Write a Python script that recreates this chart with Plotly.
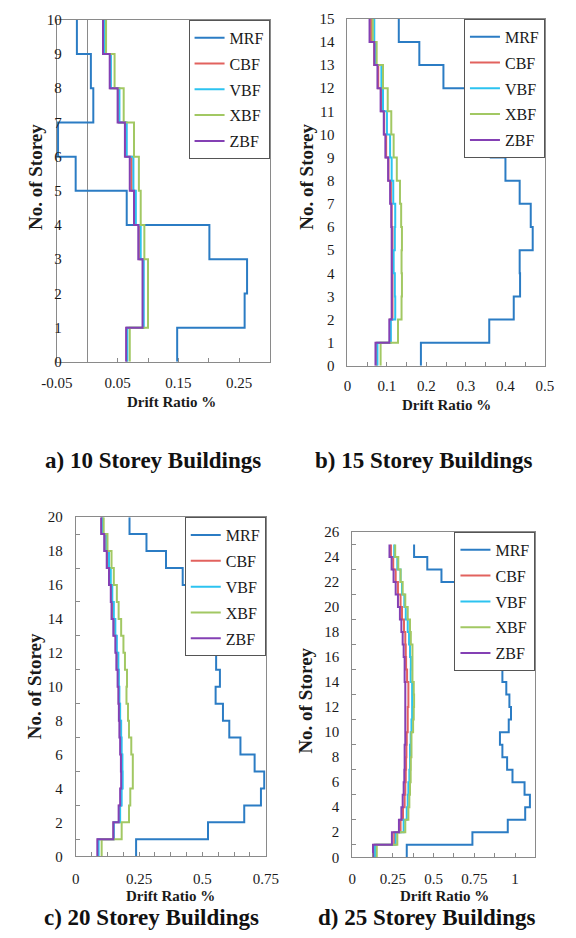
import plotly.graph_objects as go

series_names = ["MRF", "CBF", "VBF", "XBF", "ZBF"]
series_colors = ["#2B7CC4", "#E2625E", "#2CC3F0", "#A2C863", "#8440B4"]

# ---- a) 10 storey ----
a_mrf = [0.148, 0.259, 0.263, 0.201, 0.065, -0.019, -0.048, 0.010, 0.006, -0.017]
a_cbf = [0.065, 0.092, 0.092, 0.086, 0.078, 0.073, 0.064, 0.052, 0.038, 0.027]
a_vbf = [0.066, 0.093, 0.093, 0.088, 0.080, 0.076, 0.065, 0.053, 0.039, 0.029]
a_xbf = [0.070, 0.100, 0.100, 0.094, 0.088, 0.085, 0.077, 0.060, 0.045, 0.031]
a_zbf = [0.064, 0.091, 0.091, 0.084, 0.077, 0.070, 0.062, 0.050, 0.037, 0.026]

# ---- b) 15 storey ----
b_mrf = [0.186, 0.359, 0.421, 0.437, 0.436, 0.469, 0.464, 0.436, 0.400, 0.363, 0.345, 0.301, 0.243, 0.182, 0.130]
b_cbf = [0.074, 0.108, 0.114, 0.114, 0.113, 0.114, 0.112, 0.110, 0.104, 0.098, 0.093, 0.085, 0.078, 0.068, 0.060]
b_vbf = [0.076, 0.110, 0.121, 0.120, 0.117, 0.120, 0.121, 0.116, 0.112, 0.108, 0.100, 0.090, 0.086, 0.070, 0.068]
b_xbf = [0.084, 0.128, 0.137, 0.138, 0.137, 0.138, 0.136, 0.133, 0.125, 0.117, 0.111, 0.102, 0.090, 0.074, 0.064]
b_zbf = [0.071, 0.106, 0.112, 0.112, 0.112, 0.112, 0.111, 0.108, 0.103, 0.096, 0.092, 0.084, 0.076, 0.068, 0.056]

# ---- c) 20 storey ----
c_mrf = [0.238, 0.522, 0.665, 0.731, 0.744, 0.706, 0.650, 0.606, 0.581, 0.552, 0.569, 0.554, 0.521, 0.485, 0.450, 0.456, 0.422, 0.356, 0.279, 0.212]
c_cbf = [0.087, 0.149, 0.172, 0.178, 0.182, 0.181, 0.178, 0.176, 0.173, 0.170, 0.168, 0.164, 0.159, 0.152, 0.145, 0.141, 0.134, 0.127, 0.117, 0.103]
c_vbf = [0.090, 0.150, 0.175, 0.181, 0.185, 0.184, 0.181, 0.179, 0.175, 0.172, 0.170, 0.168, 0.162, 0.156, 0.150, 0.144, 0.138, 0.131, 0.121, 0.106]
c_xbf = [0.102, 0.181, 0.210, 0.215, 0.225, 0.225, 0.219, 0.210, 0.206, 0.200, 0.202, 0.194, 0.188, 0.179, 0.169, 0.162, 0.150, 0.141, 0.125, 0.110]
c_zbf = [0.085, 0.148, 0.169, 0.175, 0.179, 0.178, 0.175, 0.172, 0.170, 0.168, 0.165, 0.160, 0.156, 0.148, 0.141, 0.138, 0.131, 0.122, 0.112, 0.100]

# ---- d) 25 storey ----
d_mrf = [0.335, 0.738, 0.955, 1.062, 1.091, 1.058, 0.984, 0.951, 0.922, 0.907, 0.961, 0.975, 0.965, 0.946, 0.922,
         1.023, 1.062, 1.017, 0.940, 0.849, 0.748, 0.651, 0.548, 0.461, 0.380]
d_cbf = [0.136, 0.258, 0.297, 0.312, 0.322, 0.326, 0.329, 0.331, 0.333, 0.335, 0.341, 0.341, 0.345, 0.345, 0.337,
         0.331, 0.329, 0.326, 0.318, 0.306, 0.297, 0.281, 0.267, 0.252, 0.238]
d_vbf = [0.141, 0.267, 0.316, 0.335, 0.341, 0.345, 0.351, 0.355, 0.355, 0.359, 0.364, 0.368, 0.368, 0.368, 0.359,
         0.360, 0.355, 0.349, 0.341, 0.329, 0.320, 0.306, 0.297, 0.277, 0.258]
d_xbf = [0.151, 0.277, 0.326, 0.345, 0.351, 0.355, 0.359, 0.360, 0.364, 0.364, 0.374, 0.378, 0.380, 0.378, 0.370,
         0.370, 0.370, 0.360, 0.355, 0.341, 0.326, 0.310, 0.297, 0.283, 0.264]
d_zbf = [0.128, 0.244, 0.287, 0.302, 0.310, 0.316, 0.320, 0.322, 0.322, 0.326, 0.326, 0.326, 0.326, 0.326, 0.322,
         0.322, 0.316, 0.310, 0.302, 0.293, 0.281, 0.267, 0.254, 0.242, 0.229]

panel_titles = ["a) 10 Storey Buildings", "b) 15 Storey Buildings",
                "c) 20 Storey Buildings", "d) 25 Storey Buildings"]
x_title = "Drift Ratio %"
y_title = "No. of Storey"

panels = [
    [a_mrf, a_cbf, a_vbf, a_xbf, a_zbf],
    [b_mrf, b_cbf, b_vbf, b_xbf, b_zbf],
    [c_mrf, c_cbf, c_vbf, c_xbf, c_zbf],
    [d_mrf, d_cbf, d_vbf, d_xbf, d_zbf],
]

W, H = 576, 938
SERIF = "Liberation Serif, Times New Roman, serif"

# plot-area boxes in pixels: left, right, top, bottom
boxes = [(43, 267, 12, 360), (349, 557, 11, 364), (63, 263, 518, 863), (354, 547, 533, 864)]

def px_x(v):
    return v / W

def px_y(v):
    return 1 - v / H

fig = go.Figure()

for p, series in enumerate(panels):
    sfx = "" if p == 0 else str(p + 1)
    for name, color, vals in zip(series_names, series_colors, series):
        xs = list(vals) + [vals[-1]]
        ys = list(range(len(vals) + 1))
        fig.add_trace(go.Scatter(
            x=xs, y=ys, mode="lines", name=name, line=dict(color=color, width=2, shape="vh"),
            xaxis="x" + sfx, yaxis="y" + sfx, legend="legend" + sfx, legendgroup=name + sfx,
        ))

axis_font = dict(family=SERIF, size=15, color="#1a1a1a")
line_col = "#8a8a8a"

xcfg = [
    dict(range=[-0.05, 0.30], tickvals=[-0.05, 0.05, 0.15, 0.25], ticktext=["-0.05", "0.05", "0.15", "0.25"],
         minor=dict(dtick=0.05, tick0=0, ticks="inside", ticklen=4, tickcolor=line_col),
         zeroline=True, zerolinecolor=line_col, zerolinewidth=1),
    dict(range=[0, 0.5], tickvals=[0, 0.1, 0.2, 0.3, 0.4, 0.5], ticktext=["0", "0.1", "0.2", "0.3", "0.4", "0.5"],
         minor=dict(dtick=0.05, tick0=0, ticks="inside", ticklen=4, tickcolor=line_col), zeroline=False),
    dict(range=[0, 0.75], tickvals=[0, 0.25, 0.5, 0.75], ticktext=["0", "0.25", "0.5", "0.75"],
         minor=dict(dtick=0.0625, tick0=0, ticks="inside", ticklen=4, tickcolor=line_col), zeroline=False),
    dict(range=[0, 1.125], tickvals=[0, 0.25, 0.5, 0.75, 1.0], ticktext=["0", "0.25", "0.5", "0.75", "1"],
         minor=dict(dtick=0.125, tick0=0, ticks="inside", ticklen=4, tickcolor=line_col), zeroline=False),
]
ycfg = [
    dict(range=[0, 10], dtick=1, ticklabelstandoff=-9),
    dict(range=[0, 15], dtick=1, ticklabelstandoff=9),
    dict(range=[0, 20], dtick=2, ticklabelstandoff=9,
         minor=dict(dtick=1, ticks="inside", ticklen=4, tickcolor=line_col)),
    dict(range=[0, 26], dtick=2, ticklabelstandoff=9,
         minor=dict(dtick=1, ticks="inside", ticklen=4, tickcolor=line_col)),
]
x_standoff = [7, 6, 9, 8]

layout = dict(
    width=W, height=H, margin=dict(l=0, r=0, t=0, b=0),
    paper_bgcolor="white", plot_bgcolor="white",
    font=dict(family=SERIF, size=15, color="#1a1a1a"),
    annotations=[],
)

title_pos = [(144, 460), (430, 460), (143, 925), (433, 925)]
xtitle_pos = [(164, 401), (453, 404), (163, 903), (451, 903)]
ytitle_pos = [(20, 172), (305, 172), (19, 690), (305, 705)]

for p in range(4):
    sfx = "" if p == 0 else str(p + 1)
    l, r, t, b = boxes[p]
    xa = dict(domain=[px_x(l), px_x(r)], anchor="y" + sfx, showline=True, mirror=True, linecolor=line_col,
              linewidth=1, showgrid=False, ticks="inside", ticklen=4, tickcolor=line_col,
              tickfont=axis_font, ticklabelstandoff=x_standoff[p], fixedrange=True)
    xa.update(xcfg[p])
    ya = dict(domain=[px_y(b), px_y(t)], anchor="x" + sfx, showline=True, mirror=True, linecolor=line_col,
              linewidth=1, showgrid=False, zeroline=False, ticks="", tickfont=axis_font, fixedrange=True)
    ya.update(ycfg[p])
    layout["xaxis" + sfx] = xa
    layout["yaxis" + sfx] = ya
    layout["legend" + sfx] = dict(
        x=px_x(r), y=px_y(t), xanchor="right", yanchor="top", bgcolor="white",
        bordercolor="#555555", borderwidth=1, font=dict(family=SERIF, size=16, color="#1a1a1a"),
        traceorder="grouped", tracegroupgap=2, itemwidth=30,
    )
    tx, ty = title_pos[p]
    layout["annotations"].append(dict(
        text="<b>" + panel_titles[p] + "</b>", x=px_x(tx), y=px_y(ty), xref="paper", yref="paper",
        showarrow=False, xanchor="center", yanchor="middle", font=dict(family=SERIF, size=23, color="#111")))
    xx, xy = xtitle_pos[p]
    layout["annotations"].append(dict(
        text="<b>" + x_title + "</b>", x=px_x(xx), y=px_y(xy), xref="paper", yref="paper",
        showarrow=False, xanchor="center", yanchor="middle", font=dict(family=SERIF, size=15, color="#1a1a1a")))
    yx, yy = ytitle_pos[p]
    layout["annotations"].append(dict(
        text="<b>" + y_title + "</b>", x=px_x(yx), y=px_y(yy), xref="paper", yref="paper", textangle=-90,
        showarrow=False, xanchor="center", yanchor="middle", font=dict(family=SERIF, size=19, color="#1a1a1a")))

fig.update_layout(layout)
fig.write_html("out.html")
